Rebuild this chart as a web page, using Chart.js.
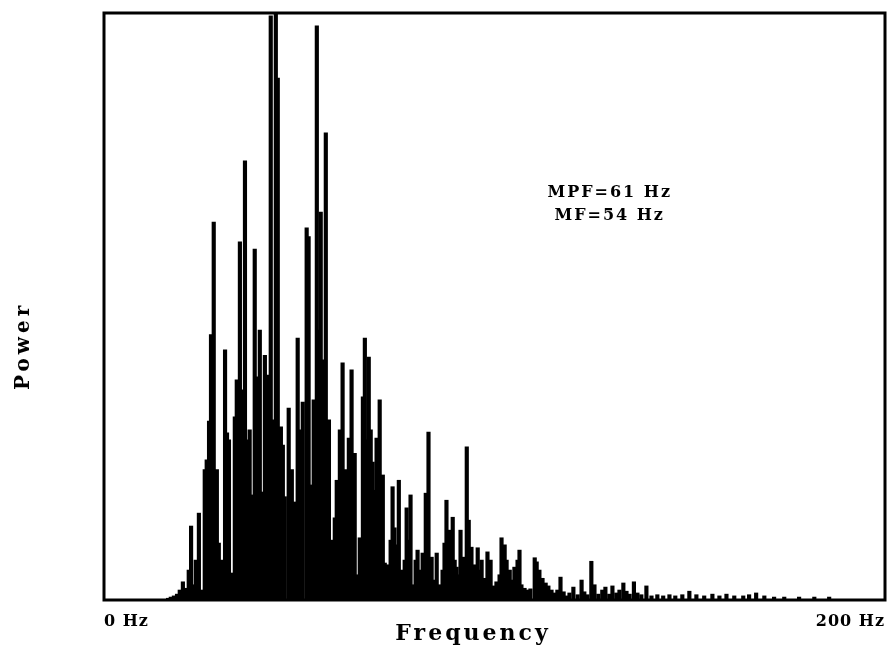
<!DOCTYPE html>
<html>
<head>
<meta charset="utf-8">
<title>Power spectrum</title>
<script src="https://cdn.jsdelivr.net/npm/chart.js@4/dist/chart.umd.min.js"></script>
<style>
  html, body { margin: 0; padding: 0; background: #fff; }
  #wrap { width: 889px; height: 648px; position: relative; }
</style>
</head>
<body>
<div id="wrap"><canvas id="spectrum"></canvas></div>
<script>
// frequency bins (Hz)
const freqHz = [
  16.4,17.1,17.9,18.7,19.4,20.2,21.0,21.7,22.3,23.0,
  23.5,24.3,25.1,25.8,26.3,26.9,27.4,28.1,28.9,29.4,
  30.2,31.0,31.5,32.0,32.7,33.5,34.0,34.8,35.3,36.1,
  36.6,37.3,37.9,38.6,39.4,39.9,40.7,41.2,42.0,42.7,
  43.2,44.0,44.5,45.3,45.8,46.3,47.3,48.1,48.9,49.6,
  50.1,50.9,51.9,52.4,53.0,53.7,54.5,55.0,55.5,56.3,
  56.8,57.6,58.3,59.1,59.6,60.4,61.1,61.9,62.7,63.4,
  64.2,64.7,65.5,66.3,66.8,67.3,67.8,68.3,68.8,69.3,
  69.8,70.6,71.4,71.9,72.6,73.4,73.9,74.4,74.9,75.5,
  76.2,77.0,77.5,78.0,78.5,79.3,79.8,80.3,81.1,81.6,
  82.4,83.1,83.9,84.4,85.2,85.9,86.7,87.2,87.7,88.5,
  89.3,89.8,90.3,90.8,91.3,92.1,92.9,93.4,94.1,94.9,
  95.7,96.2,96.7,97.5,98.2,99.0,99.8,100.5,101.3,101.8,
  102.6,103.1,103.9,104.6,105.1,105.9,106.4,106.9,107.7,108.5,
  109.2,110.3,110.8,111.5,112.3,113.1,113.8,114.6,115.4,116.1,
  116.9,117.7,118.4,119.2,120.2,121.3,122.3,123.0,123.8,124.8,
  125.6,126.6,127.6,128.4,129.4,130.2,131.2,132.0,133.0,133.8,
  134.6,135.7,136.6,137.6,138.9,140.2,141.7,143.2,144.8,146.3,
  148.1,149.9,151.7,153.7,155.8,157.6,159.4,161.4,163.7,165.2,
  167.0,169.1,171.6,174.2,178.0,181.9,185.7
];

// relative power, 100 = top of the frame
const power = [
  0.3,0.5,0.7,1.0,1.7,3.1,2.0,5.1,12.6,2.6,
  6.8,14.8,1.7,22.2,23.9,30.5,45.2,64.4,22.2,9.7,
  6.8,42.6,28.5,27.3,4.6,31.2,37.5,61.0,35.8,74.8,
  27.3,29.0,17.9,59.8,38.0,46.0,18.4,41.7,38.3,99.5,
  30.7,100,88.9,29.5,26.4,17.6,32.7,22.2,16.7,44.6,
  29.0,33.7,63.4,61.9,19.6,34.1,97.8,46.0,66.1,40.9,
  79.6,30.7,10.2,14.0,20.4,29.0,40.4,22.2,27.6,39.2,
  25.0,4.3,10.6,34.6,44.6,27.3,41.4,29.0,23.5,18.7,
  27.6,34.1,21.3,6.3,6.0,10.2,19.3,12.3,9.4,20.4,
  5.1,6.8,15.7,10.2,17.9,2.6,6.8,8.5,5.1,8.0,
  18.2,28.6,7.3,3.4,8.0,2.6,5.1,9.7,17.0,11.9,
  14.1,6.8,5.6,4.3,11.9,7.3,26.1,13.6,9.0,6.0,
  8.9,5.1,6.8,3.7,8.2,6.8,2.4,3.1,4.3,10.6,
  9.4,6.8,5.1,3.4,5.6,6.8,8.5,2.6,2.0,1.7,
  1.9,7.2,6.5,5.1,3.7,2.9,2.4,1.7,1.2,1.7,
  3.9,1.4,0.7,1.2,2.2,0.9,3.4,1.4,0.9,6.6,
  2.6,1.0,1.7,2.2,1.0,2.4,1.2,1.7,2.9,1.5,
  1.0,3.1,1.2,0.9,2.4,0.7,0.9,0.7,0.9,0.7,
  0.9,1.5,0.9,0.7,1.0,0.7,1.0,0.7,0.7,0.9,
  1.2,0.7,0.5,0.5,0.5,0.5,0.5
];

const xTicks = [0, 200];
const notes = ['MPF=61 Hz', 'MF=54 Hz'];

const serif = '"DejaVu Serif", "Liberation Serif", serif';

// tick labels are spaced out a little
const spacing = {
  id: 'spacing',
  beforeLayout(chart) { chart.ctx.letterSpacing = '1px'; },
  beforeDraw(chart) { chart.ctx.letterSpacing = '1px'; }
};

// black box round the plot
const frame = {
  id: 'frame',
  afterDatasetsDraw(chart) {
    const {ctx, chartArea: a} = chart;
    ctx.save();
    ctx.strokeStyle = '#000';
    ctx.lineWidth = 3;
    ctx.strokeRect(a.left, a.top, a.right - a.left, a.bottom - a.top);
    ctx.restore();
  }
};

// MPF / MF note, axis names
const textPlugin = {
  id: 'texts',
  afterDraw(chart) {
    const {ctx, scales: {x, y}} = chart;
    ctx.save();
    ctx.fillStyle = '#000';
    ctx.textAlign = 'center';
    ctx.textBaseline = 'middle';

    ctx.font = 'bold 16px ' + serif;
    ctx.letterSpacing = '2px';
    ctx.fillText(notes[0], x.getPixelForValue(129.5), y.getPixelForValue(69.3));
    ctx.fillText(notes[1], x.getPixelForValue(129.5), y.getPixelForValue(65.5));

    ctx.font = 'bold 22px ' + serif;
    ctx.letterSpacing = '3px';
    ctx.fillText('Frequency', x.getPixelForValue(94.5), 634);

    ctx.translate(24, y.getPixelForValue(43.3));
    ctx.rotate(-Math.PI / 2);
    ctx.font = 'bold 20px ' + serif;
    ctx.letterSpacing = '4px';
    ctx.fillText('Power', 0, 0);
    ctx.restore();
  }
};

new Chart(document.getElementById('spectrum'), {
  type: 'bar',
  data: {
    datasets: [{
      data: freqHz.map((f, i) => ({x: f, y: power[i]})),
      backgroundColor: '#000',
      borderWidth: 0,
      barThickness: 3.5
    }]
  },
  options: {
    responsive: true,
    maintainAspectRatio: false,
    animation: false,
    layout: {padding: {top: 13, right: 3, left: 0, bottom: 0}},
    plugins: {legend: {display: false}, tooltip: {enabled: false}},
    scales: {
      x: {
        type: 'linear',
        min: 0,
        max: 200,
        offset: false,
        grid: {display: false},
        border: {display: false},
        afterBuildTicks: s => { s.ticks = xTicks.map(v => ({value: v})); },
        afterFit: s => { s.height = 48; },
        ticks: {
          align: 'inner',
          maxRotation: 0,
          padding: 4,
          color: '#000',
          font: {family: serif, size: 16, weight: 'bold'},
          callback: v => v + ' Hz'
        }
      },
      y: {
        min: 0,
        max: 100,
        grid: {display: false},
        border: {display: false},
        ticks: {display: false},
        afterFit: s => { s.width = 104; }
      }
    }
  },
  plugins: [spacing, frame, textPlugin]
});
</script>
</body>
</html>
